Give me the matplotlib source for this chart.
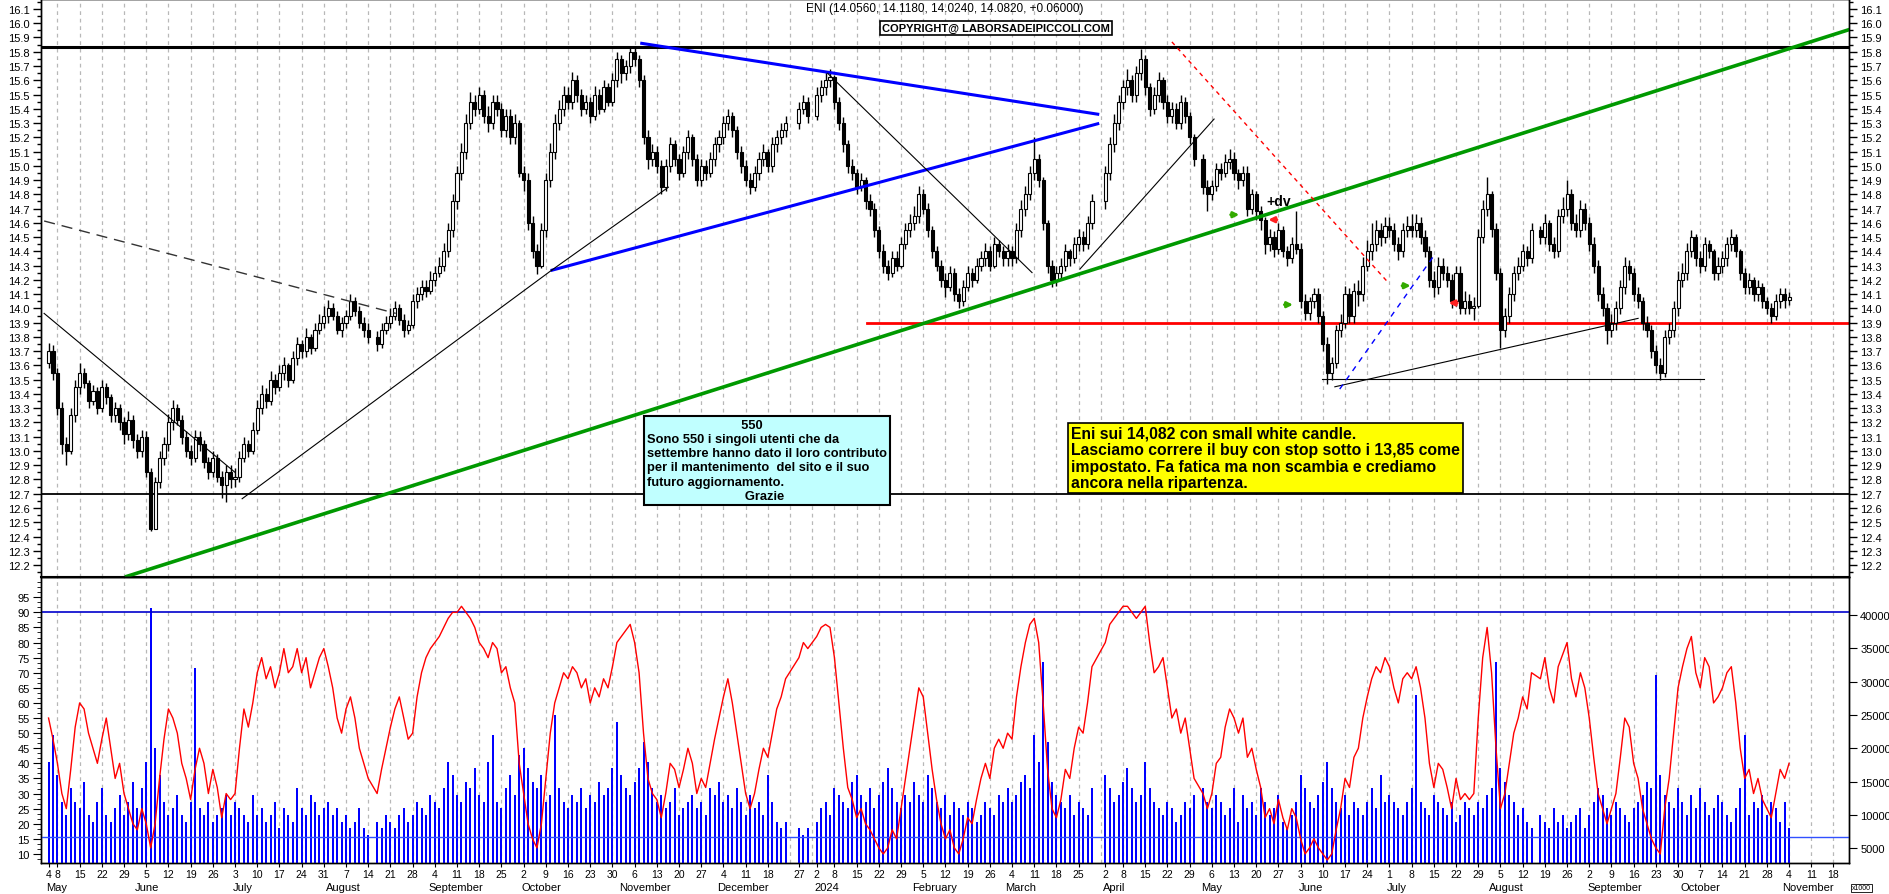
import numpy as np
import pandas as pd
import matplotlib
matplotlib.use('Agg')
import matplotlib.pyplot as plt

plt.rcParams['font.family'] = ['Liberation Sans', 'DejaVu Sans']

# ---- daily data, one value per trading day, month by month ----
close_m = [
    "13.70 13.55 13.30 13.05 13.00 13.25 13.45 13.55 13.48 13.35 13.42 13.30 13.45 13.38 13.25 13.30 13.20 13.12 13.22 13.08",
    "13.00 13.10 12.85 12.45 12.78 12.95 13.05 13.20 13.30 13.22 13.10 13.00 12.95 13.10 13.05 12.92 12.85 12.95 12.82 12.76 12.85 12.80",
    "12.82 12.95 13.05 13.00 13.15 13.30 13.40 13.35 13.50 13.45 13.55 13.60 13.50 13.65 13.75 13.70 13.80 13.72 13.85 13.90 13.95",
    "14.00 13.95 13.85 13.90 13.95 14.05 13.98 13.90 13.85 13.80 13.75 13.85 13.90 13.95 14.00 13.92 13.85 13.88 14.05 14.10 14.15 14.12",
    "14.20 14.25 14.30 14.40 14.55 14.75 14.95 15.10 15.30 15.45 15.40 15.50 15.35 15.30 15.45 15.40 15.25 15.35 15.20 15.30 14.95",
    "14.90 14.60 14.40 14.30 14.55 14.90 15.10 15.30 15.40 15.50 15.45 15.60 15.50 15.40 15.45 15.35 15.50 15.40 15.55 15.45 15.60 15.75",
    "15.65 15.70 15.80 15.75 15.60 15.20 15.05 15.10 15.00 14.85 15.00 15.15 15.05 14.95 15.10 15.20 15.05 14.90 15.00 14.95 15.05 15.15",
    "15.20 15.30 15.35 15.25 15.10 15.00 14.90 14.85 14.95 15.05 15.10 15.00 15.15 15.20 15.25 15.30 15.40 15.45 15.35",
    "15.50 15.55 15.60 15.62 15.45 15.30 15.15 15.00 14.95 14.85 14.90 14.75 14.70 14.55 14.40 14.30 14.25 14.35 14.30 14.45 14.55 14.60",
    "14.65 14.80 14.70 14.55 14.40 14.30 14.20 14.15 14.25 14.10 14.05 14.15 14.25 14.20 14.30 14.35 14.40 14.30 14.45 14.40 14.35",
    "14.40 14.35 14.55 14.70 14.80 14.95 15.05 14.90 14.60 14.30 14.20 14.25 14.30 14.40 14.35 14.45 14.50 14.45 14.60 14.75",
    "14.95 15.15 15.30 15.45 15.55 15.60 15.50 15.65 15.75 15.55 15.40 15.50 15.60 15.45 15.35 15.40 15.30 15.45 15.35 15.20 15.05",
    "14.85 14.80 14.86 14.98 14.95 15.03 15.05 14.95 14.90 14.95 14.70 14.80 14.68 14.62 14.45 14.50 14.42 14.55 14.40 14.35 14.45 14.42",
    "14.05 13.97 14.05 14.10 13.95 13.75 13.55 13.62 13.85 13.90 14.10 13.95 14.12 14.10 14.30 14.40 14.45 14.55 14.50 14.58",
    "14.55 14.45 14.40 14.55 14.58 14.55 14.60 14.50 14.40 14.20 14.15 14.30 14.25 14.20 14.05 14.25 14.00 14.05 14.00 14.02 14.50 14.70 14.80",
    "14.56 14.25 13.85 13.95 14.10 14.25 14.30 14.40 14.35 14.55 14.50 14.60 14.45 14.40 14.65 14.70 14.80 14.60 14.55 14.70 14.60",
    "14.45 14.30 14.10 14.00 13.85 13.90 14.00 14.15 14.30 14.25 14.10 14.05 13.90 13.85 13.70 13.60 13.55 13.80 13.85 14.00 14.20",
    "14.25 14.40 14.50 14.35 14.30 14.45 14.40 14.25 14.30 14.35 14.45 14.50 14.40 14.25 14.15 14.20 14.10 14.15 14.05 14.00 13.95 14.05 14.10",
    "14.056 14.082",
]
high_m = [
    "13.76 13.74 13.58 13.34 13.10 13.30 13.50 13.62 13.58 13.50 13.46 13.45 13.50 13.48 13.40 13.34 13.33 13.24 13.28 13.25",
    "13.12 13.15 13.14 12.88 12.82 13.00 13.10 13.26 13.36 13.33 13.25 13.14 13.04 13.15 13.14 13.08 12.96 13.00 12.98 12.86 12.90 12.90",
    "12.88 13.00 13.10 13.08 13.20 13.36 13.46 13.44 13.56 13.54 13.60 13.66 13.62 13.70 13.80 13.78 13.86 13.82 13.90 13.96 14.02",
    "14.06 14.04 13.98 13.94 13.99 14.10 14.08 14.02 13.94 13.90 13.84 13.90 13.95 14.00 14.05 14.03 13.96 13.92 14.10 14.15 14.20 14.20",
    "14.26 14.30 14.36 14.46 14.60 14.80 15.00 15.16 15.36 15.52 15.50 15.55 15.53 15.42 15.50 15.50 15.44 15.40 15.40 15.36 15.32",
    "15.00 14.95 14.65 14.45 14.60 14.95 15.16 15.36 15.46 15.56 15.55 15.66 15.64 15.54 15.50 15.48 15.56 15.54 15.60 15.58 15.65 15.80",
    "15.78 15.74 15.84 15.83 15.78 15.64 15.25 15.15 15.14 15.04 15.05 15.20 15.18 15.08 15.14 15.25 15.22 15.08 15.05 15.04 15.10 15.20",
    "15.25 15.35 15.40 15.38 15.28 15.14 15.04 14.95 15.00 15.10 15.15 15.12 15.20 15.25 15.30 15.35 15.45 15.50 15.48",
    "15.55 15.60 15.66 15.68 15.64 15.48 15.34 15.18 15.05 14.98 14.95 14.92 14.80 14.74 14.58 14.45 14.34 14.40 14.40 14.50 14.60 14.66",
    "14.72 14.86 14.84 14.74 14.58 14.44 14.34 14.25 14.30 14.28 14.14 14.20 14.30 14.28 14.35 14.40 14.46 14.44 14.50 14.48 14.44",
    "14.45 14.44 14.60 14.76 14.86 15.00 15.20 15.08 14.92 14.62 14.34 14.30 14.35 14.45 14.42 14.50 14.56 14.54 14.65 14.80",
    "15.00 15.20 15.36 15.50 15.60 15.68 15.64 15.70 15.82 15.78 15.58 15.55 15.66 15.62 15.50 15.45 15.44 15.50 15.48 15.38 15.22",
    "15.08 14.90 14.90 15.02 15.02 15.08 15.12 15.10 14.98 15.00 15.00 14.84 14.82 14.72 14.64 14.56 14.54 14.60 14.58 14.44 14.50 14.68",
    "14.46 14.10 14.08 14.14 14.14 13.98 13.80 13.66 13.88 13.96 14.16 14.14 14.18 14.20 14.36 14.48 14.60 14.62 14.60 14.64",
    "14.64 14.60 14.50 14.60 14.65 14.66 14.66 14.64 14.55 14.44 14.26 14.36 14.35 14.30 14.24 14.30 14.30 14.12 14.10 14.08 14.56 14.76 14.92",
    "14.82 14.60 14.28 14.00 14.15 14.30 14.36 14.45 14.44 14.60 14.58 14.66 14.62 14.50 14.70 14.78 14.90 14.84 14.66 14.76 14.74",
    "14.64 14.50 14.34 14.15 14.04 13.96 14.05 14.20 14.36 14.34 14.28 14.15 14.08 13.95 13.88 13.74 13.65 13.85 13.90 14.05 14.26",
    "14.32 14.46 14.55 14.52 14.40 14.50 14.48 14.42 14.36 14.40 14.50 14.56 14.52 14.42 14.28 14.25 14.22 14.20 14.18 14.08 14.04 14.10 14.14",
    "14.14 14.118",
]
low_m = [
    "13.58 13.50 13.25 12.98 12.90 12.98 13.20 13.40 13.44 13.30 13.32 13.26 13.27 13.33 13.20 13.20 13.15 13.05 13.08 13.02",
    "12.95 12.96 12.82 12.44 12.45 12.74 12.90 13.00 13.15 13.18 13.05 12.96 12.90 12.92 13.00 12.88 12.80 12.82 12.78 12.67 12.64 12.74",
    "12.75 12.78 12.92 12.96 12.98 13.12 13.26 13.30 13.32 13.40 13.42 13.50 13.45 13.48 13.60 13.65 13.66 13.68 13.70 13.82 13.86",
    "13.90 13.92 13.82 13.80 13.86 13.92 13.95 13.86 13.80 13.76 13.70 13.72 13.82 13.86 13.92 13.88 13.80 13.82 13.86 14.00 14.06 14.08",
    "14.10 14.16 14.22 14.26 14.36 14.50 14.70 14.90 15.05 15.26 15.35 15.36 15.30 15.24 15.26 15.35 15.20 15.20 15.15 15.15 14.92",
    "14.82 14.55 14.35 14.24 14.28 14.50 14.85 15.05 15.25 15.35 15.40 15.40 15.45 15.35 15.36 15.30 15.32 15.36 15.38 15.42 15.42 15.55",
    "15.58 15.60 15.65 15.70 15.55 15.15 14.98 15.00 14.95 14.80 14.82 14.96 15.00 14.90 14.92 15.05 15.00 14.86 14.86 14.90 14.92 15.00",
    "15.10 15.15 15.25 15.20 15.05 14.95 14.86 14.80 14.82 14.90 15.00 14.96 14.96 15.10 15.15 15.20 15.26 15.36 15.30",
    "15.32 15.45 15.50 15.55 15.40 15.25 15.10 14.95 14.90 14.80 14.82 14.70 14.65 14.50 14.35 14.25 14.20 14.22 14.26 14.28 14.42 14.50",
    "14.55 14.60 14.66 14.50 14.35 14.26 14.15 14.08 14.12 14.05 14.00 14.02 14.12 14.15 14.18 14.26 14.30 14.26 14.28 14.36 14.30",
    "14.30 14.30 14.32 14.50 14.65 14.76 14.90 14.85 14.55 14.25 14.15 14.16 14.20 14.26 14.30 14.32 14.40 14.40 14.42 14.56",
    "14.70 14.90 15.10 15.25 15.40 15.50 15.45 15.45 15.60 15.50 15.35 15.36 15.45 15.40 15.30 15.30 15.26 15.26 15.30 15.15 15.00",
    "14.80 14.68 14.76 14.82 14.90 14.92 14.98 14.90 14.84 14.86 14.65 14.66 14.62 14.55 14.38 14.40 14.36 14.38 14.36 14.30 14.32 14.38",
    "14.00 13.92 13.92 14.00 13.90 13.70 13.47 13.50 13.58 13.80 13.86 13.90 13.90 14.02 14.05 14.26 14.34 14.40 14.44 14.46",
    "14.50 14.40 14.34 14.36 14.50 14.50 14.50 14.45 14.36 14.15 14.08 14.10 14.20 14.15 14.00 14.02 13.96 13.96 13.96 13.92 14.00 14.46 14.65",
    "14.50 14.20 13.72 13.80 13.90 14.05 14.20 14.26 14.30 14.32 14.45 14.45 14.40 14.35 14.36 14.60 14.65 14.55 14.50 14.50 14.55",
    "14.40 14.25 14.05 13.95 13.75 13.80 13.85 13.96 14.10 14.20 14.05 14.00 13.85 13.80 13.65 13.55 13.50 13.52 13.75 13.80 13.95",
    "14.15 14.20 14.36 14.30 14.25 14.26 14.35 14.20 14.20 14.25 14.30 14.40 14.36 14.20 14.10 14.10 14.05 14.05 14.00 13.96 13.90 13.92 14.00",
    "14.00 14.024",
]
osc_m = [
    "55 48 40 30 25 38 52 60 58 50 45 40 48 55 45 35 40 30 25 20",
    "18 25 20 12 20 35 48 58 55 50 40 35 28 38 45 40 30 38 32 22 30 28",
    "30 45 58 52 60 70 75 68 72 65 70 78 70 72 78 70 75 65 70 75 78",
    "72 65 55 50 58 62 55 45 40 35 30 38 45 52 58 62 55 48 50 62 70 75",
    "78 80 82 85 88 90 90 92 90 88 85 80 78 75 80 78 70 72 65 60 40",
    "30 20 15 12 20 35 50 60 65 70 68 72 70 65 68 60 65 62 68 65 72 80",
    "82 84 86 80 70 50 35 30 28 22 30 40 38 32 38 45 40 30 35 32 40 48",
    "55 62 68 60 50 40 30 25 30 38 45 42 50 58 62 68 75 80 78",
    "82 85 86 85 75 60 45 32 28 22 25 20 18 15 12 10 12 18 15 25 35 45",
    "55 65 62 50 38 28 20 15 18 12 10 15 22 20 28 35 40 35 45 48 45",
    "50 48 62 72 80 86 88 80 60 38 25 22 28 38 35 45 52 50 60 72",
    "80 86 88 90 92 92 90 88 90 92 80 70 72 75 65 55 58 50 55 45 35",
    "30 25 30 40 42 52 58 55 50 55 42 45 38 32 22 25 20 28 22 18 25 22",
    "15 10 12 15 12 10 8 10 18 25 35 32 42 45 55 62 68 72 70 75",
    "72 65 60 68 70 68 72 65 55 40 32 40 38 32 25 35 28 30 28 30 55 75 85",
    "70 45 25 30 40 50 55 62 58 70 68 75 65 60 72 76 80 68 62 70 65",
    "55 42 30 25 20 25 30 42 55 52 40 35 25 20 15 12 10 25 35 50 65",
    "72 78 82 70 65 75 72 60 62 65 70 72 60 45 35 38 30 35 28 25 22 30 38",
    "35 40",
]
vol_m = [  # thousands of shares
    "18 22 16 12 10 14 12 11 15 10 9 12 14 10 9 11 13 10 12 15",
    "11 14 18 41 20 16 12 10 11 13 10 9 12 32 11 10 12 9 10 11 13 10",
    "12 11 10 9 13 10 11 9 10 12 8 11 10 9 14 11 10 13 12 10 11",
    "12 10 11 9 10 8 9 11 8 7 9 8 10 9 8 10 11 9 10 12 11 10",
    "13 12 11 14 18 16 13 12 15 14 17 13 12 18 22 12 11 14 16 13 19",
    "20 17 15 14 16 12 13 25 14 12 11 13 12 14 11 13 12 15 13 14 17 24",
    "16 14 13 15 17 21 18 14 12 13 11 12 14 10 11 12 13 11 12 10 14 13",
    "15 12 13 11 14 12 10 13 11 12 10 16 12 9 8 9 8 7 8",
    "9 11 12 10 14 13 12 11 15 16 13 12 14 11 13 15 17 14 12 11 13 12",
    "15 13 12 16 14 12 11 13 10 12 11 10 12 11 9 10 12 11 10 13 12",
    "14 12 13 15 16 14 22 18 33 21 15 13 12 11 13 10 12 11 10 14",
    "16 14 12 13 15 17 14 12 13 18 14 12 11 10 12 11 9 10 12 11 13",
    "14 12 11 13 12 10 11 14 9 13 11 12 10 14 12 10 11 13 9 8 10 12",
    "16 14 12 11 13 15 18 14 12 11 13 10 12 11 10 12 14 11 16 12",
    "13 12 11 10 12 14 28 12 11 10 13 12 11 10 12 9 10 12 11 10 12 11 13",
    "14 33 17 15 13 12 10 11 9 8 10 9 8 11 9 10 8 9 10 11 8",
    "10 12 14 13 11 10 12 11 10 9 11 12 13 15 14 31 16 13 12 11 14",
    "12 10 13 11 14 12 10 11 13 12 10 9 11 14 22 10 12 11 13 10 12 11 9",
    "12 8",
]
first_open = 13.62

closes = np.array(" ".join(close_m).split(), dtype=float)
highs = np.array(" ".join(high_m).split(), dtype=float)
lows = np.array(" ".join(low_m).split(), dtype=float)
osc = np.array(" ".join(osc_m).split(), dtype=float)
vol = np.array(" ".join(vol_m).split(), dtype=float) * 1000
opens = np.concatenate([[first_open], closes[:-1]])

holidays = pd.to_datetime(['2023-08-15', '2023-12-25', '2023-12-26', '2024-01-01',
                           '2024-03-29', '2024-04-01', '2024-05-01', '2024-08-15'])
wdays = pd.bdate_range('2023-05-04', '2024-11-22')
slot = np.arange(len(wdays))
is_trade = (~wdays.isin(holidays)) & (wdays <= '2024-11-04')
tdays = wdays[is_trade]
x = slot[is_trade]

# trend lines drawn on the chart: (day slot, price) pairs
green_line = [(17.6, 12.12), (405.5, 15.955)]
blue_top = [(133.6, 15.859), (236.3, 15.362)]
blue_low = [(113.4, 14.268), (236.3, 15.295)]
thin_lines = [
    [(43.6, 12.665), (113.4, 14.27)],
    [(113.4, 14.27), (139.6, 14.85)],
    [(-1.0, 13.965), (42.0, 12.85)],
    [(175.5, 15.648), (221.5, 14.251)],
    [(232.3, 14.276), (262.5, 15.328)],
    [(286.7, 13.505), (372.8, 13.505)],
    [(289.7, 13.45), (358.0, 13.93)],
]
dashed_black = [(-1.0, 14.613), (78.2, 13.965)]
red_dashed = [(253.0, 15.869), (301.6, 14.185)]
blue_dashed = [(290.8, 13.434), (311.8, 14.36)]
resist = 15.83
support = 12.695
red_level = (184.4, 13.895)

W, H = 1890, 895
fig = plt.figure(figsize=(W / 100, H / 100), dpi=100)
L0, R0 = 41 / W, 1849 / W
ax = fig.add_axes([L0, 1 - 578 / H, R0 - L0, 578 / H])
axl = fig.add_axes([L0, 1 - 864 / H, R0 - L0, (864 - 578) / H], sharex=ax)

xmin, xmax = -1.7, 405.5
ax.set_xlim(xmin, xmax)
ax.set_ylim(12.116, 16.17)

# weekly grid and labels
mondays = [i for i, d in enumerate(wdays) if d.weekday() == 0]
for m in mondays:
    for a in (ax, axl):
        a.axvline(m, color='#b8b8b8', lw=0.9, ls=(0, (3, 3)), zorder=0)

week_pos, week_lab = [], []
seen = set()
for i, d in enumerate(wdays):
    key = (d - pd.Timedelta(days=d.weekday())).date()
    if key in seen or d in holidays:
        continue
    seen.add(key)
    week_pos.append(i)
    week_lab.append(str(d.day))

month_pos, month_lab = [], []
prev = None
names = ['January', 'February', 'March', 'April', 'May', 'June', 'July', 'August',
         'September', 'October', 'November', 'December']
for i, d in zip(x, tdays):
    if (d.year, d.month) != prev:
        prev = (d.year, d.month)
        month_pos.append(i)
        month_lab.append('2024' if (d.year == 2024 and d.month == 1) else names[d.month - 1])

# candles
up = closes >= opens
bot = np.minimum(opens, closes)
hgt = np.maximum(np.abs(closes - opens), 0.008)
ax.vlines(x, lows, highs, color='black', lw=1, zorder=3)
ax.bar(x[up], hgt[up], bottom=bot[up], width=0.7, facecolor='white', edgecolor='black', lw=0.8, zorder=3.5)
ax.bar(x[~up], hgt[~up], bottom=bot[~up], width=0.7, facecolor='black', edgecolor='black', lw=0.8, zorder=3.5)

# lines
ax.axhline(resist, color='black', lw=2.2, zorder=2)
ax.axhline(support, color='black', lw=1.3, zorder=2)
ax.plot([red_level[0], xmax], [red_level[1]] * 2, color='#ff0000', lw=2, zorder=2)
ax.plot(*zip(*green_line), color='#009900', lw=2.6, zorder=4)
ax.plot(*zip(*blue_top), color='#0000ff', lw=2.2, zorder=4)
ax.plot(*zip(*blue_low), color='#0000ff', lw=2.2, zorder=4)
for seg in thin_lines:
    ax.plot(*zip(*seg), color='black', lw=0.8, zorder=4)
ax.plot(*zip(*dashed_black), color='#333333', lw=1, ls=(0, (8, 5)), zorder=4)
ax.plot(*zip(*red_dashed), color='#ff0000', lw=1, ls=(0, (3, 3)), zorder=4)
ax.plot(*zip(*blue_dashed), color='#0000ff', lw=1, ls=(0, (4, 4)), zorder=4)

# arrows and note
for xa, ya in [(267.2, 14.657), (279.3, 14.026), (305.8, 14.159)]:
    ax.annotate('', xy=(xa + 1.6, ya), xytext=(xa - 1.6, ya),
                arrowprops=dict(arrowstyle='-|>', color='#33aa00', lw=2, mutation_scale=8), zorder=6)
for xa, ya in [(275.7, 14.622), (316.3, 14.038)]:
    ax.annotate('', xy=(xa - 1.6, ya), xytext=(xa + 1.6, ya),
                arrowprops=dict(arrowstyle='-|>', color='#ff2020', lw=2, mutation_scale=8), zorder=6)
ax.text(277.1, 14.75, '+dv', fontsize=10, fontweight='bold', ha='center', va='center', zorder=6)

# text boxes
fig.text(647 / W, 1 - 420 / H,
         "                          550\nSono 550 i singoli utenti che da\nsettembre hanno dato il loro contributo\n"
         "per il mantenimento  del sito e il suo\nfuturo aggiornamento.\n                           Grazie",
         fontsize=9.3, fontweight='bold', ha='left', va='top', linespacing=1.24,
         bbox=dict(boxstyle='square,pad=0.25', facecolor='#c0ffff', edgecolor='black', lw=1.5), zorder=7)
fig.text(1071 / W, 1 - 427 / H,
         "Eni sui 14,082 con small white candle.\nLasciamo correre il buy con stop sotto i 13,85 come\n"
         "impostato. Fa fatica ma non scambia e crediamo\nancora nella ripartenza.",
         fontsize=11.3, fontweight='bold', ha='left', va='top', linespacing=1.12,
         bbox=dict(boxstyle='square,pad=0.2', facecolor='#ffff00', edgecolor='black', lw=1.2), zorder=7)

fig.text(945 / W, 1 - 9 / H, 'ENI (14.0560, 14.1180, 14.0240, 14.0820, +0.06000)',
         fontsize=8.5, ha='center', va='center')
fig.text(996 / W, 1 - 29 / H, 'COPYRIGHT@ LABORSADEIPICCOLI.COM', fontsize=8, fontweight='bold',
         ha='center', va='center',
         bbox=dict(boxstyle='square,pad=0.2', facecolor='white', edgecolor='black', lw=1.2))

# price axis ticks both sides
pt = np.round(np.arange(12.2, 16.11, 0.1), 1)
ax.set_yticks(pt)
ax.set_yticklabels([f'{v:.1f}' for v in pt])
ax.set_yticks(np.arange(12.15, 16.16, 0.05), minor=True)
axr = ax.twinx()
axr.set_ylim(ax.get_ylim())
axr.set_yticks(pt)
axr.set_yticklabels([f'{v:.1f}' for v in pt])
axr.set_yticks(np.arange(12.15, 16.16, 0.05), minor=True)
for a in (ax, axr):
    a.tick_params(axis='y', which='major', length=6, width=1, labelsize=8, pad=2)
    a.tick_params(axis='y', which='minor', length=3, width=1)
ax.tick_params(axis='x', which='both', bottom=False, labelbottom=False)

# lower panel: volume bars (right scale) and oscillator (left scale)
axl.set_ylim(2810, 45700)
axl.bar(x, vol, width=0.45, color='#0000ff', zorder=3)
axo = axl.twinx()
axo.set_ylim(7, 101.7)
axo.plot(x, osc, color='#ff0000', lw=1, zorder=4)
axo.axhline(90, color='#0000cc', lw=1.2)
axo.axhline(15.5, color='#3050ff', lw=1)
axo.yaxis.tick_left()
axo.yaxis.set_label_position('left')
axl.yaxis.tick_right()
vt = np.arange(5000, 40001, 5000)
axl.set_yticks(vt)
axl.set_yticklabels([str(v) for v in vt])
axl.tick_params(axis='y', which='major', length=6, labelsize=8, pad=2,
                left=False, labelleft=False, right=True, labelright=True)
ot = np.arange(10, 96, 5)
axo.set_yticks(ot)
axo.set_yticklabels([str(v) for v in ot])
axo.set_yticks(np.arange(8.33, 101, 5 / 3), minor=True)
axo.tick_params(axis='y', which='major', length=6, labelsize=8, pad=2,
                right=False, labelright=False, left=True, labelleft=True)
axo.tick_params(axis='y', which='minor', length=3, right=False, left=True)

axl.set_xticks(week_pos)
axl.set_xticklabels(week_lab)
axl.tick_params(axis='x', length=3, labelsize=7.5, pad=1)
for p, lab in zip(month_pos, month_lab):
    axl.text(p - 0.5, -0.085, lab, transform=axl.get_xaxis_transform(), fontsize=8,
             ha='left', va='center')
axl.set_xlim(xmin, xmax)

for a in (ax, axr, axl, axo):
    for s in a.spines.values():
        s.set_color('black')
        s.set_linewidth(1)
ax.spines['bottom'].set_linewidth(1.5)

fig.text(1852 / W, 1 - 889 / H, 'x1000', fontsize=5, ha='left', va='center',
         bbox=dict(boxstyle='square,pad=0.1', facecolor='white', edgecolor='black', lw=0.6))

fig.savefig('out.png', dpi=100)
